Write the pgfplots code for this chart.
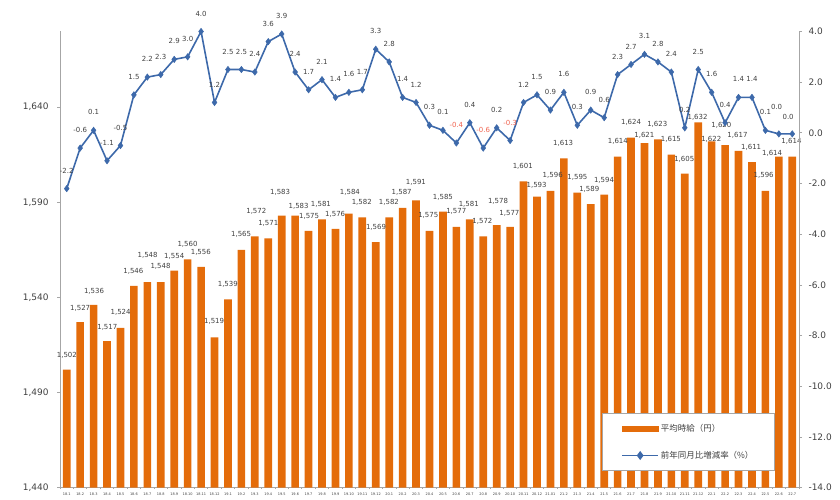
\documentclass[border=0pt]{standalone}
\usepackage{fontspec}
\setmainfont{DejaVu Sans}
\newfontfamily\cjk{Noto Sans CJK JP}
\usepackage{pgfplots}
\usepackage{pgfplotstable}
\pgfplotsset{compat=1.18}
\definecolor{barorange}{RGB}{228,108,10}
\definecolor{lineblue}{RGB}{61,105,170}
\definecolor{labgray}{RGB}{64,64,64}
\definecolor{negred}{RGB}{240,100,80}
\definecolor{axgray}{RGB}{166,166,166}

% bar values and (hand-placed) label positions
\pgfplotstableread{
x y lx ly
0 1502 0.01 1509.7
1 1527 1.00 1534.2
2 1536 2.03 1543.3
3 1517 3.02 1524.3
4 1524 4.01 1532.3
5 1546 4.96 1553.8
6 1548 6.02 1561.9
7 1548 6.98 1556.1
8 1554 8.00 1561.4
9 1560 8.99 1568.0
10 1556 9.98 1563.7
11 1519 10.97 1527.4
12 1539 11.99 1547.0
13 1565 12.98 1572.9
14 1572 14.11 1585.4
15 1571 15.00 1578.9
16 1583 15.88 1595.0
17 1583 17.26 1588.1
18 1575 18.04 1582.6
19 1581 18.92 1588.9
20 1576 19.98 1583.6
21 1584 21.08 1595.3
22 1582 21.96 1590.1
23 1569 23.02 1576.8
24 1582 23.98 1590.1
25 1587 24.93 1595.2
26 1591 25.99 1600.6
27 1575 26.91 1583.3
28 1585 28.00 1592.6
29 1577 28.99 1585.4
30 1581 29.92 1589.0
31 1572 30.94 1580.1
32 1578 32.10 1590.3
33 1577 32.95 1584.3
34 1601 33.94 1609.0
35 1593 34.97 1598.9
36 1596 36.17 1604.3
37 1613 36.95 1620.9
38 1595 38.01 1602.9
39 1589 38.89 1596.8
40 1594 39.99 1601.6
41 1614 41.02 1621.8
42 1624 42.00 1632.0
43 1621 42.99 1624.9
44 1623 43.95 1630.9
45 1615 44.97 1622.8
46 1605 45.96 1612.7
47 1632 46.95 1634.4
48 1622 47.97 1623.2
49 1620 48.72 1630.2
50 1617 49.92 1625.1
51 1611 50.94 1619.0
52 1596 51.87 1603.9
53 1614 52.50 1615.5
54 1614 53.94 1621.8
}\bars

\pgfplotstableread{
x y lab
0 -2.2 -2.2
1 -0.6 -0.6
2 0.1 0.1
3 -1.1 -1.1
4 -0.5 -0.5
5 1.5 1.5
6 2.2 2.2
7 2.3 2.3
8 2.9 2.9
9 3.0 3.0
10 4.0 4.0
11 1.2 1.2
12 2.5 2.5
13 2.5 2.5
14 2.4 2.4
15 3.6 3.6
16 3.9 3.9
17 2.4 2.4
18 1.7 1.7
19 2.1 2.1
20 1.4 1.4
21 1.6 1.6
22 1.7 1.7
23 3.3 3.3
24 2.8 2.8
25 1.4 1.4
26 1.2 1.2
27 0.3 0.3
28 0.1 0.1
29 -0.4 {}
30 0.4 0.4
31 -0.6 {}
32 0.2 0.2
33 -0.3 {}
34 1.2 1.2
35 1.5 1.5
36 0.9 0.9
37 1.6 1.6
38 0.3 0.3
39 0.9 0.9
40 0.6 0.6
41 2.3 2.3
42 2.7 2.7
43 3.1 3.1
44 2.8 2.8
45 2.4 2.4
46 0.2 0.2
47 2.5 2.5
48 1.6 1.6
49 0.4 0.4
50 1.4 1.4
51 1.4 1.4
52 0.1 0.1
53 -0.04 {}
54 -0.04 {}
}\rate

\tikzset{vlab/.style={font=\fontsize{7}{8}\selectfont, text=labgray, anchor=center}}
\pgfplotsset{
  common/.style={
    scale only axis, width=739bp, height=456.2bp,
    at={(60bp,12.3bp)}, anchor=south west,
    xmin=-0.5, xmax=54.5, clip=false,
    /pgf/number format/assume math mode=true,
    axis line style={draw=axgray, line width=1bp},
    tick style={draw=axgray, line width=0.8bp},
    tick align=outside,
    major tick length=3bp,
  },
}

\begin{document}
\begin{tikzpicture}
\useasboundingbox (0,0) rectangle (840bp,500bp);
\begin{axis}[common,
  axis y line*=left, axis x line*=bottom,
  ymin=1440, ymax=1679.7, ytick={1440,1490,...,1640},
  /pgf/number format/1000 sep={,},
  yticklabel style={font=\fontsize{9}{10}\selectfont, text=labgray, xshift=-5bp},
  xtick={0,...,54},
  xticklabels={18.1,18.2,18.3,18.4,18.5,18.6,18.7,18.8,18.9,18.10,18.11,18.12,
    19.1,19.2,19.3,19.4,19.5,19.6,19.7,19.8,19.9,19.10,19.11,19.12,
    20.1,20.2,20.3,20.4,20.5,20.6,20.7,20.8,20.9,20.10,20.11,20.12,
    21.01,21.2,21.3,21.4,21.5,21.6,21.7,21.8,21.9,21.10,21.11,21.12,
    22.1,22.2,22.3,22.4,22.5,22.6,22.7},
  x tick label style={font=\fontsize{3.5}{4}\selectfont, text=labgray, yshift=1bp},
  major x tick style={draw=none},
  minor xtick={-0.5,0.5,...,54.5},
  minor tick length=1.5bp,
]
\addplot[ybar, fill=barorange, draw=none, bar width=0.57, bar shift=0pt]
  table[x=x,y=y]{\bars};
\addplot[draw=none, mark=none, point meta=\thisrow{y},
  nodes near coords={\pgfmathprintnumber[1000 sep={,}]{\pgfplotspointmeta}},
  nodes near coords style={vlab}]
  table[x=lx,y=ly]{\bars};
\end{axis}
\begin{axis}[common,
  axis y line*=right, axis x line=none,
  ymin=-14, ymax=4, ytick={-14,-12,...,4},
  yticklabels={-14.0,-12.0,-10.0,-8.0,-6.0,-4.0,-2.0,0.0,2.0,4.0},
  yticklabel style={font=\fontsize{9}{10}\selectfont, text=labgray, xshift=3bp},
  legend style={at={(0.7334,0.1637)}, anchor=north west, draw=axgray, fill=white,
    font=\fontsize{8.5}{10}\selectfont, text=labgray, inner xsep=19bp, inner ysep=9bp,
    row sep=14bp, line width=0.8bp},
  legend cell align=left,
]
\addlegendimage{legend image code/.code={\fill[barorange] (0bp,-2.8bp) rectangle (36bp,2.8bp);}}
\addlegendentry{\cjk 平均時給（円）}
\addplot[lineblue, line width=1.6bp, mark=diamond*, mark size=3.2bp,
  mark options={fill=lineblue, draw=lineblue, line width=0.5bp},
  point meta=explicit symbolic,
  nodes near coords,
  nodes near coords style={vlab, yshift=18bp},
  legend image code/.code={\draw[lineblue, line width=1.6bp] (0bp,0bp) -- (36bp,0bp);
    \fill[lineblue] (18bp,3.2bp) -- (20.4bp,0bp) -- (18bp,-3.2bp) -- (15.6bp,0bp) -- cycle;}]
  table[x=x,y=y,meta=lab]{\rate};
\addlegendentry{\cjk 前年同月比増減率（\%）}
\addplot[draw=none, mark=none, forget plot, point meta=explicit symbolic,
  nodes near coords,
  nodes near coords style={vlab, text=negred, yshift=18bp}]
  coordinates {(29,-0.4) [-0.4] (31,-0.6) [-0.6] (33,-0.3) [-0.3]};
\addplot[draw=none, mark=none, forget plot, point meta=explicit symbolic,
  nodes near coords,
  nodes near coords style={vlab}]
  coordinates {(52.83,1.01) [0.0] (53.69,0.64) [0.0]};
\end{axis}
\end{tikzpicture}
\end{document}
